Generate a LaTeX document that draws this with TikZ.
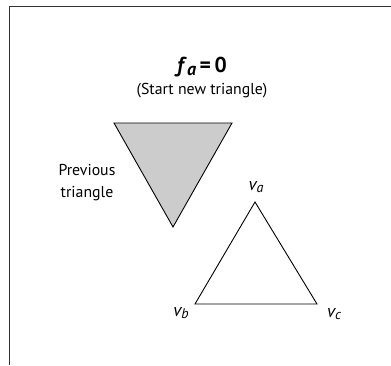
\documentclass[tikz,border=0pt]{standalone}
\usepackage{fontspec}
\setmainfont{PT Sans}
\begin{document}
\begin{tikzpicture}[x=1pt,y=-1pt,
  frameline/.style={line width=1.4pt, draw=black!80},
  tri/.style={line width=0.9pt, draw=black, line join=miter},
  lbl/.style={inner sep=0pt, font=\fontsize{15.8}{22}\selectfont, align=center},
  vlbl/.style={inner sep=0pt, font=\fontsize{18}{20}\selectfont\itshape}]
\useasboundingbox (0,0) rectangle (391,365);
% frame (top and left sides only)
\coordinate (fl) at (9.5,365);
\coordinate (ftl) at (9.5,6.5);
\coordinate (fr) at (391,6.5);
\draw[frameline] (fl) -- (ftl) -- (fr);
% previous triangle
\coordinate (p1) at (114,123);
\coordinate (p2) at (232,123);
\coordinate (p3) at (173,227);
\filldraw[tri, fill=black!20] (p1) -- (p2) -- (p3) -- cycle;
% new triangle
\coordinate (va) at (255,202);
\coordinate (vb) at (195,304);
\coordinate (vc) at (317,304);
\draw[tri] (va) -- (vb) -- (vc) -- cycle;
% labels
\node[vlbl] (la) at (256,187) {v\raisebox{-0.3ex}{\fontsize{14}{16}\selectfont a}};
\node[vlbl] (lb) at (181,313) {v\raisebox{-0.3ex}{\fontsize{14}{16}\selectfont b}};
\node[vlbl] (lc) at (334,314) {v\raisebox{-0.3ex}{\fontsize{14}{16}\selectfont c}};
\node[inner sep=0pt, font=\fontsize{21.5}{24}\selectfont\bfseries] (fa) at (202,67)
  {\textit{f}\raisebox{-0.3ex}{\fontsize{18}{20}\selectfont\textit{a}}\,=\,0};
\node[lbl] (st) at (202,91) {(Start new triangle)};
\node[lbl] (prev) at (87,183) {Previous\\triangle};
\end{tikzpicture}
\end{document}
